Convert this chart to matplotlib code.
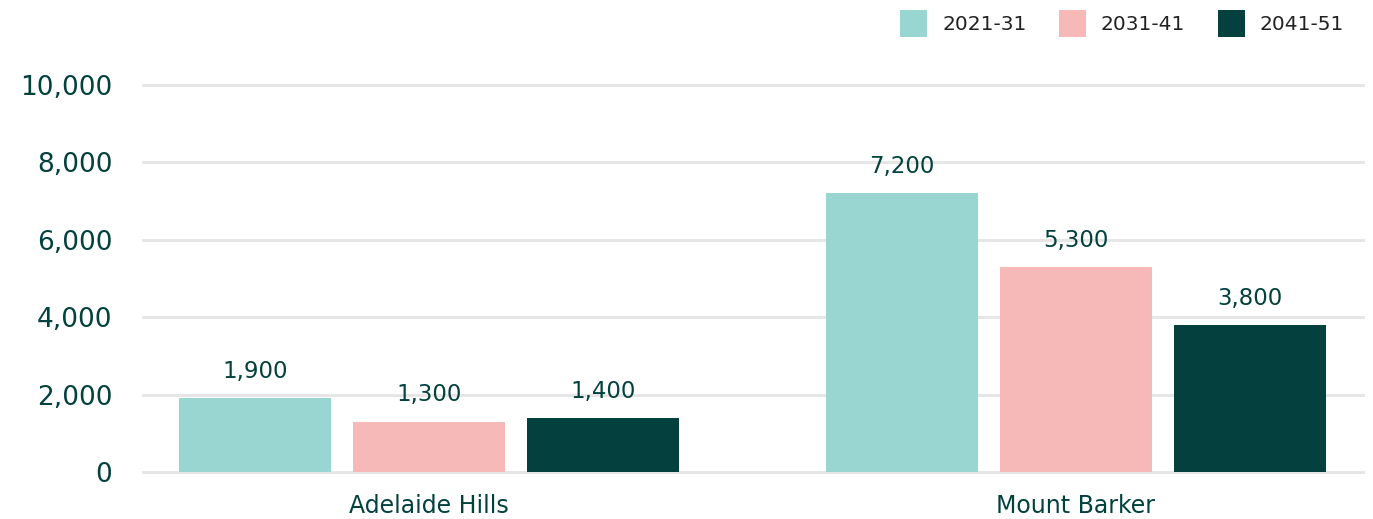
import matplotlib
matplotlib.use("Agg")
import matplotlib.pyplot as plt
import numpy as np

categories = ["Adelaide Hills", "Mount Barker"]
periods = ["2021-31", "2031-41", "2041-51"]
values = {
    "2021-31": [1900, 7200],
    "2031-41": [1300, 5300],
    "2041-51": [1400, 3800],
}
y_ticks = [0, 2000, 4000, 6000, 8000, 10000]

colors = ["#99d5d1", "#f7b8b8", "#04403d"]
text_color = "#03413d"

plt.rcParams["font.family"] = ["DejaVu Sans"]

fig = plt.figure(figsize=(13.73, 5.19), dpi=100)
ax = fig.add_axes([143 / 1373, 47 / 519, 1220 / 1373, 387 / 519])

x = np.arange(len(categories))
width = 0.235
step = 0.269
for i, (p, c) in enumerate(zip(periods, colors)):
    bars = ax.bar(x + (i - 1) * step, values[p], width, color=c, label=p, zorder=3)
    ax.bar_label(bars, labels=[f"{v:,}" for v in values[p]], padding=11,
                 fontsize=16.5, color=text_color)

ax.set_xlim(-0.442, 1.4436)
ax.set_ylim(0, 10000)
ax.set_yticks(y_ticks)
ax.set_yticklabels([f"{t:,}" for t in y_ticks], fontsize=19, color=text_color)
ax.set_xticks(x)
ax.set_xticklabels(categories, fontsize=17, color=text_color)
ax.tick_params(axis="y", length=0, pad=22)
ax.tick_params(axis="x", length=0, pad=16)
ax.grid(axis="y", color="#e6e6e6", linewidth=2.2, zorder=0)
ax.set_axisbelow(True)
for gl in ax.get_ygridlines():
    gl.set_clip_on(False)
for s in ax.spines.values():
    s.set_visible(False)

leg = fig.legend(loc="upper right", bbox_to_anchor=(1344 / 1373, 1 - 10 / 519), ncol=3,
                 frameon=False, fontsize=14.5, handlelength=1.34, handleheight=1.7,
                 handletextpad=0.75, columnspacing=1.6, borderaxespad=0, borderpad=0)
for t in leg.get_texts():
    t.set_color("#222222")

fig.savefig("out.png", dpi=100)
